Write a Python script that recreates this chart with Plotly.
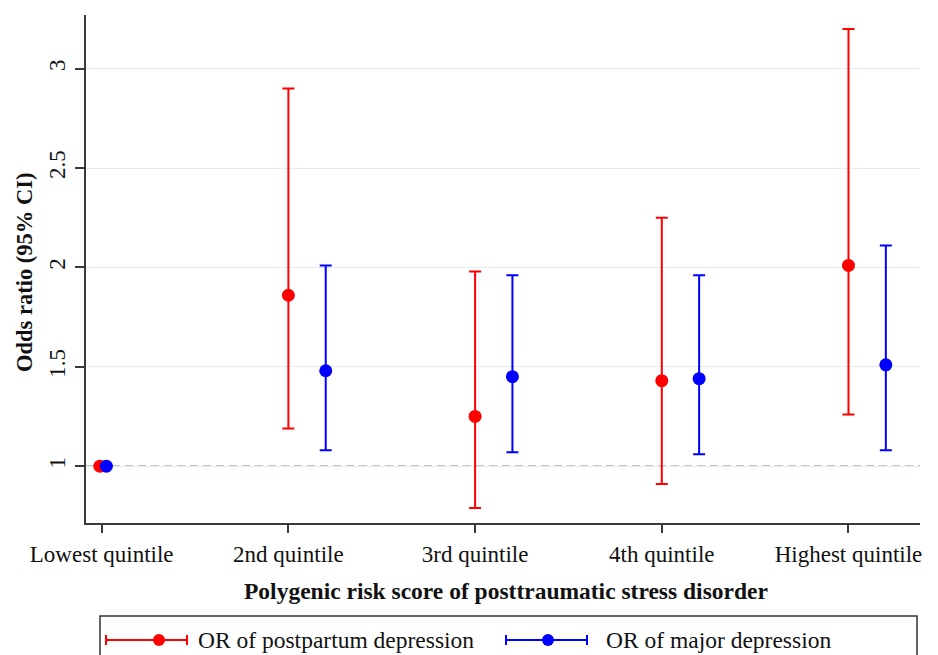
import plotly.graph_objects as go

# ---- data ----
categories = ["Lowest quintile", "2nd quintile", "3rd quintile", "4th quintile", "Highest quintile"]
ppd_or = [1.00, 1.86, 1.25, 1.43, 2.01]
ppd_lo = [1.00, 1.19, 0.79, 0.91, 1.26]
ppd_hi = [1.00, 2.90, 1.98, 2.25, 3.20]
mdd_or = [1.00, 1.48, 1.45, 1.44, 1.51]
mdd_lo = [1.00, 1.08, 1.07, 1.06, 1.08]
mdd_hi = [1.00, 2.01, 1.96, 1.96, 2.11]
ppd_name = "OR of postpartum depression"
mdd_name = "OR of major depression"
y_ticks = [1, 1.5, 2, 2.5, 3]
y_ticktext = ["1", "1.5", "2", "2.5", "3"]

# ---- style ----
RED = "#FF0000"
BLUE = "#0000FF"
AXIS = "#3a3a3a"
FONT = "Liberation Serif"
TXT = "#111111"
blue_dx = [0.025, 0.2, 0.2, 0.2, 0.2]
red_dx = [-0.01, 0, 0, 0, 0]

idx = list(range(len(categories)))
x_red = [i + d for i, d in zip(idx, red_dx)]
x_blue = [i + d for i, d in zip(idx, blue_dx)]

fig = go.Figure()

fig.add_trace(go.Scatter(
    x=x_red, y=ppd_or, mode="markers", name=ppd_name, showlegend=False,
    marker=dict(color=RED, size=13),
    error_y=dict(type="data", symmetric=False,
                 array=[h - p for h, p in zip(ppd_hi, ppd_or)],
                 arrayminus=[p - l for p, l in zip(ppd_or, ppd_lo)],
                 color=RED, thickness=2, width=6),
))
fig.add_trace(go.Scatter(
    x=x_blue, y=mdd_or, mode="markers", name=mdd_name, showlegend=False,
    marker=dict(color=BLUE, size=13),
    error_y=dict(type="data", symmetric=False,
                 array=[h - p for h, p in zip(mdd_hi, mdd_or)],
                 arrayminus=[p - l for p, l in zip(mdd_or, mdd_lo)],
                 color=BLUE, thickness=2, width=6),
))

# reference line at OR = 1
fig.add_shape(type="line", xref="paper", yref="y", x0=0, x1=1, y0=1, y1=1,
              line=dict(color="#8a8a8a", width=1.5, dash="8px,5px"), layer="between")

# page has an 8px body margin: figure is drawn from (8, 8)
OFF = 8
W, H = 938 - OFF, 655 - OFF
L, R, T, B = 86 - OFF, 18, 15 - OFF, 132
pw, ph = W - L - R, H - T - B


def px_x(x):
    return (x - OFF - L) / pw


def px_y(y):
    return (H - B - (y - OFF)) / ph


shapes = []
# legend box
shapes.append(dict(type="rect", xref="paper", yref="paper",
                   x0=px_x(100), x1=px_x(917), y0=px_y(616), y1=px_y(700),
                   line=dict(color="#333333", width=1.5), fillcolor="rgba(0,0,0,0)"))
ly = 640
for (x0, x1, xd, col) in [(106, 187, 159, RED), (506, 587, 548, BLUE)]:
    shapes.append(dict(type="line", xref="paper", yref="paper",
                       x0=px_x(x0), x1=px_x(x1), y0=px_y(ly), y1=px_y(ly),
                       line=dict(color=col, width=2)))
    for xc in (x0, x1):
        shapes.append(dict(type="line", xref="paper", yref="paper",
                           x0=px_x(xc), x1=px_x(xc), y0=px_y(ly - 5), y1=px_y(ly + 5),
                           line=dict(color=col, width=2)))
    shapes.append(dict(type="circle", xref="paper", yref="paper",
                       x0=px_x(xd - 6), x1=px_x(xd + 6), y0=px_y(ly - 6), y1=px_y(ly + 6),
                       line=dict(color=col, width=0), fillcolor=col))
for s in shapes:
    fig.add_shape(**s)

annotations = [
    dict(text="<b>Polygenic risk score of posttraumatic stress disorder</b>",
         xref="paper", yref="paper", x=px_x(506), y=px_y(591),
         xanchor="center", yanchor="middle", showarrow=False,
         font=dict(family=FONT, size=23.5, color=TXT)),
    dict(text="<b>Odds ratio (95% CI)</b>", textangle=-90,
         xref="paper", yref="paper", x=px_x(24), y=px_y(273),
         xanchor="center", yanchor="middle", showarrow=False,
         font=dict(family=FONT, size=22.5, color=TXT)),
    dict(text=ppd_name, xref="paper", yref="paper", x=px_x(196), y=px_y(ly),
         xanchor="left", yanchor="middle", showarrow=False,
         font=dict(family=FONT, size=23.5, color=TXT)),
    dict(text=mdd_name, xref="paper", yref="paper", x=px_x(604), y=px_y(ly),
         xanchor="left", yanchor="middle", showarrow=False,
         font=dict(family=FONT, size=23.5, color=TXT)),
]
fig.update_layout(annotations=annotations)

fig.update_layout(
    width=W, height=H,
    margin=dict(l=L, r=R, t=T, b=B, pad=0),
    paper_bgcolor="white", plot_bgcolor="white",
    showlegend=False,
    font=dict(family=FONT, size=23, color=TXT),
    xaxis=dict(range=[-0.084, 4.383], tickmode="array", tickvals=idx, ticktext=categories,
               showgrid=False, zeroline=False, showline=True, linecolor=AXIS, linewidth=1.5,
               ticks="outside", ticklen=8, tickcolor=AXIS, tickwidth=1.5,
               ticklabelstandoff=2,
               tickfont=dict(family=FONT, size=23, color=TXT)),
    yaxis=dict(range=[0.714, 3.27], tickmode="array", tickvals=y_ticks, ticktext=y_ticktext,
               showgrid=True, gridcolor="#E3EDF0", gridwidth=1, zeroline=False,
               showline=True, linecolor=AXIS, linewidth=1.5,
               ticks="outside", ticklen=9, tickcolor=AXIS, tickwidth=1.5,
               tickangle=-90, ticklabelstandoff=1,
               tickfont=dict(family=FONT, size=23, color=TXT)),
)

fig.write_html("out.html")
